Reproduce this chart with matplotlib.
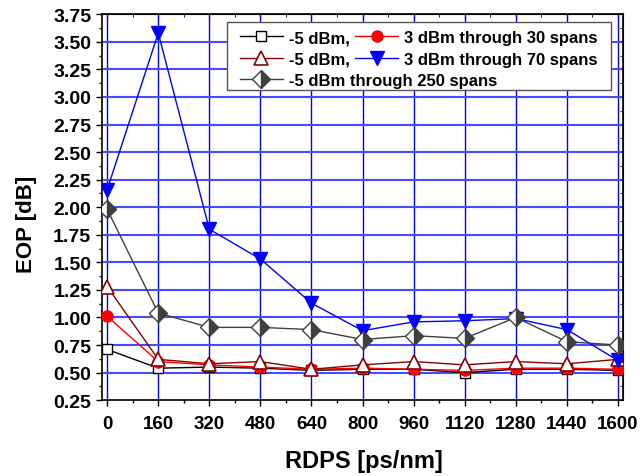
import numpy as np
import matplotlib
matplotlib.use('Agg')
import matplotlib.pyplot as plt
from matplotlib.ticker import MultipleLocator
from matplotlib.patches import Rectangle

plt.rcParams['font.family'] = ['Liberation Sans', 'DejaVu Sans']
plt.rcParams['font.weight'] = 'bold'

# data
rdps = [0, 160, 320, 480, 640, 800, 960, 1120, 1280, 1440, 1600]
m5_30 = [0.71, 0.54, 0.55, 0.54, 0.52, 0.53, 0.53, 0.50, 0.53, 0.53, 0.52]
p3_30 = [1.01, 0.60, 0.57, 0.55, 0.53, 0.54, 0.53, 0.52, 0.54, 0.54, 0.53]
m5_70 = [1.28, 0.62, 0.58, 0.60, 0.53, 0.57, 0.60, 0.57, 0.60, 0.58, 0.62]
p3_70 = [2.16, 3.58, 1.80, 1.53, 1.13, 0.88, 0.96, 0.97, 0.99, 0.89, 0.61]
m5_250 = [1.98, 1.04, 0.91, 0.91, 0.89, 0.80, 0.835, 0.81, 1.00, 0.78, 0.75]
yticks = np.arange(0.25, 3.76, 0.25)

fig = plt.figure(figsize=(6.4, 4.77), dpi=100)
ax = fig.add_axes([0.159, 0.159, 0.8145, 0.809])

for v in rdps:
    ax.axvline(v, color='#0000ff', lw=1.0, zorder=1)
for v in yticks[1:-1]:
    ax.axhline(v, color='#4a4aff', lw=1.5, zorder=1)

l1, = ax.plot(rdps, m5_30, color='black', lw=1, marker='s', ms=6.5,
              mfc='white', mec='black', mew=1, zorder=3)
l2, = ax.plot(rdps, p3_30, color='#ff0000', lw=1, marker='o', ms=8,
              mfc='#ff0000', mec='#ff0000', zorder=4)
l3, = ax.plot(rdps, m5_70, color='#8b0000', lw=1, marker='^', ms=10,
              mfc='white', mec='#8b0000', mew=1.2, zorder=5)
l4, = ax.plot(rdps, p3_70, color='#0000ff', lw=1, marker='v', ms=10,
              mfc='#0000ff', mec='#0000ff', zorder=6)
l5, = ax.plot(rdps, m5_250, color='#404040', lw=1, marker='D', ms=9,
              fillstyle='right', mfc='#404040', mfcalt='white',
              mec='#404040', mew=1, zorder=7)

ax.set_xlim(-17, 1616)
ax.set_ylim(0.25, 3.75)
ax.set_xticks(rdps)
ax.set_yticks(yticks)
ax.set_yticklabels(['%.2f' % v for v in yticks])
ax.xaxis.set_minor_locator(MultipleLocator(80))
ax.yaxis.set_minor_locator(MultipleLocator(0.125))
ax.tick_params(which='both', width=1, direction='out', top=False, right=False)
ax.tick_params(which='major', length=4.5, pad=3)
ax.tick_params(which='minor', length=2.5)
ax.tick_params(axis='x', labelsize=13.5, pad=6)
ax.tick_params(axis='y', labelsize=14)
for sp in ax.spines.values():
    sp.set_linewidth(1.2)

# inward ticks on the top and right edges
tx = ax.secondary_xaxis('top')
tx.set_xticks(rdps)
tx.xaxis.set_minor_locator(MultipleLocator(80))
tx.tick_params(which='both', direction='in', labeltop=False)
tx.tick_params(which='major', length=4.5)
tx.tick_params(which='minor', length=2.5)
ty = ax.secondary_yaxis('right')
ty.set_yticks(yticks)
ty.yaxis.set_minor_locator(MultipleLocator(0.125))
ty.tick_params(which='both', direction='in', labelright=False)
ty.tick_params(which='major', length=4.5)
ty.tick_params(which='minor', length=2.5)

ax.set_xlabel('RDPS [ps/nm]', fontsize=17, fontweight='bold')
ax.set_ylabel('EOP [dB]', fontsize=16, fontweight='bold')
ax.xaxis.set_label_coords(0.502, -0.127)
ax.yaxis.set_label_coords(-0.124, 0.459)

# legend box shared by both legend columns
ax.add_patch(Rectangle((0.240, 0.803), 0.737, 0.176, transform=ax.transAxes,
                       facecolor='white', edgecolor='#555555', lw=1,
                       zorder=9))
common = dict(prop={'size': 12, 'weight': 'bold'}, handlelength=2.6,
              labelspacing=0.38, borderpad=0.4, handletextpad=0.35,
              borderaxespad=0, frameon=False, loc='upper left')
leg1 = ax.legend([l1, l3, l5], ['-5 dBm,', '-5 dBm,', '-5 dBm through 250 spans'],
                 bbox_to_anchor=(0.252, 0.976), **common)
leg1.set_zorder(10)
ax.add_artist(leg1)
leg2 = ax.legend([l2, l4], ['3 dBm through 30 spans', '3 dBm through 70 spans'],
                 bbox_to_anchor=(0.473, 0.976), **common)
leg2.set_zorder(10)

fig.savefig('out.png', dpi=100)
